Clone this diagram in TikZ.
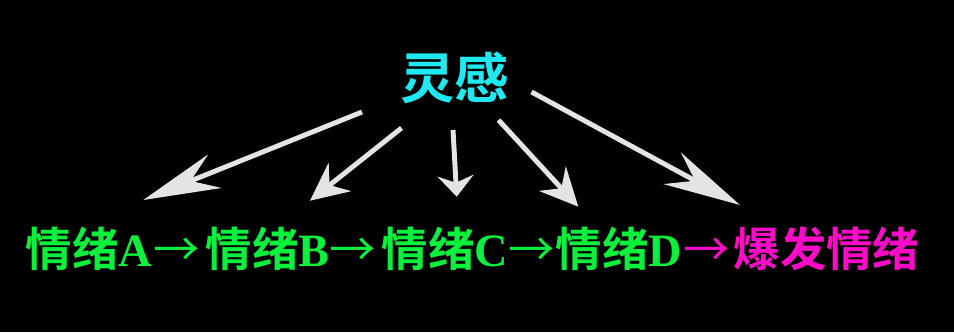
\documentclass[tikz,border=0pt]{standalone}
\usepackage{fontspec}
\setmainfont{Liberation Serif}
\newfontfamily\cjk{Noto Sans CJK SC}[BoldFont={Noto Sans CJK SC Bold}]
\usepackage{tikz}
\usetikzlibrary{arrows.meta}
\definecolor{ideacyan}{RGB}{30,232,240}
\definecolor{moodgreen}{RGB}{10,240,60}
\definecolor{burstpink}{RGB}{255,10,200}
\definecolor{raygray}{RGB}{228,228,228}

\begin{document}
\begin{tikzpicture}[mood/.style={inner sep=0pt, text=moodgreen, font=\fontsize{13.2pt}{14pt}\selectfont\bfseries},
 burst/.style={mood, text=burstpink},
 ray/.style 2 args={draw=raygray, line width=1.4pt, -{Stealth[length=#1, width=3.6mm, inset=#2]}}]
 \fill[black] (0,0) rectangle (9.54,3.32);
 % top word
 \node[inner sep=0pt, anchor=base, text=ideacyan, font=\fontsize{15.5pt}{16pt}\selectfont\bfseries] (idea) at (4.545,2.34) {\cjk 灵感};
 % bottom chain
 \foreach \i/\x/\lbl in {1/0.25/A, 2/2.05/B, 3/3.81/C, 4/5.55/D}{
   \node[mood, anchor=base west] (e\i) at (\x,0.66) {{\cjk 情绪}\lbl};
 }
 \foreach \i/\x in {1/1.53, 2/3.29, 3/5.08}{
   \node[mood, anchor=base west] (r\i) at (\x,0.66) {\cjk\mdseries →};
 }
 \node[burst, anchor=base west] (r4) at (6.83,0.66) {\cjk\mdseries →};
 \node[burst, anchor=base west] (e5) at (7.33,0.66) {\cjk 爆发情绪};
 % rays from the top word
 \foreach \i/\sx/\sy/\tx/\ty/\len/\ins in {1/-0.925/-0.14/1.183/0.66/7.7mm/2.6mm,
   2/-0.53/-0.30/1.05/0.653/3.8mm/1.3mm, 3/-0.015/-0.32/0.757/0.693/2.1mm/0.7mm,
   4/0.44/-0.22/0.233/0.593/3.8mm/1.3mm, 5/0.77/0.06/0.07/0.61/7.7mm/2.6mm}{
   \draw[ray={\len}{\ins}] ([shift={(\sx,\sy)}]idea.base) -- ([shift={(\tx,\ty)}]e\i.base west);
 }
\end{tikzpicture}
\end{document}
